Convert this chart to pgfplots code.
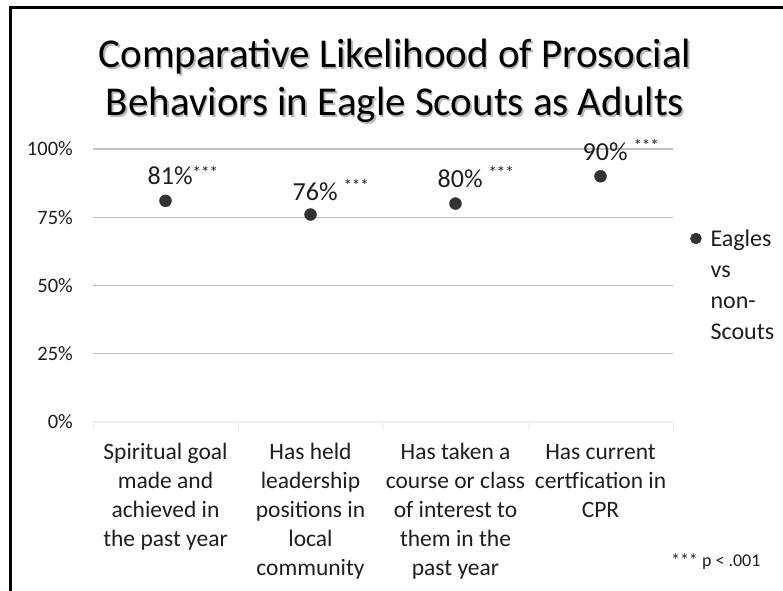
\documentclass[border=0pt]{standalone}
\usepackage{fontspec}
\setmainfont{Carlito}
\usepackage{pgfplots}
\pgfplotsset{compat=1.18}

\definecolor{gridgray}{RGB}{192,192,192}
\definecolor{markgray}{RGB}{51,51,51}
\definecolor{txt}{RGB}{30,30,30}

% raised significance stars after a data label
\DeclareRobustCommand\stars[1]{\raisebox{#1}{\fontsize{17bp}{17bp}\selectfont ***}}

\begin{document}
\begin{tikzpicture}[x=1bp,y=1bp]
\path[use as bounding box] (0,0) rectangle (783,591);

\begin{axis}[
    at={(93bp,169bp)}, anchor=south west,
    scale only axis, width=580bp, height=273bp,
    xmin=-0.5, xmax=3.5, ymin=0, ymax=100,
    clip=false,
    axis line style={draw=none},
    major tick length=0pt,
    xtick pos=bottom, ytick pos=left,
    xtick={0,1,2,3},
    xticklabels={
        {\strut Spiritual goal\\made and\\achieved in\\the past year},
        {\strut Has held\\leadership\\positions in\\local\\community},
        {\strut Has taken a\\course or class\\of interest to\\them in the\\past year},
        {\strut Has current\\certfication in\\CPR}},
    xticklabel style={font=\fontsize{23.5bp}{29bp}\selectfont, text=txt,
        align=center, anchor=north, inner sep=0pt, yshift=-17.5bp},
    extra x ticks={-0.5,0.5,1.5,2.5,3.5},
    extra x tick labels={},
    extra x tick style={major tick length=8bp, tick align=outside,
        tick style={draw=black!7, line width=1bp}},
    ytick={25,50,75,100},
    yticklabels={25\%,50\%,75\%,100\%},
    extra y ticks={0},
    extra y tick labels={0\%},
    extra y tick style={grid style={draw=black!6, line width=1.3bp}},
    yticklabel style={font=\fontsize{20.5bp}{24bp}\selectfont, text=txt,
        inner sep=0pt, xshift=-20bp},
    ymajorgrids,
    grid style={gridgray, line width=1.2bp},
    legend style={at={(axis description cs:1,0.5)}, anchor=west,
        draw=none, fill=none, inner sep=0pt, xshift=24bp,
        font=\fontsize{24bp}{31bp}\selectfont, text=txt,
        cells={anchor=west, align=left}},
    legend image code/.code={
        \path (-5.5bp,0bp) (5.5bp,0bp);
        \fill[markgray, overlay] (-7bp,47bp) circle (5.5bp);},
]
\addplot[only marks, mark=*, mark size=6bp, color=markgray,
    point meta=explicit symbolic,
    nodes near coords,
    every node near coord/.append style={anchor=base west, inner sep=0pt,
        xshift=-18bp, yshift=16bp, font=\fontsize{26bp}{30bp}\selectfont,
        text=txt}]
coordinates {
    (0,81) [81\%\stars{6bp}]
    (1,76) [\raisebox{-2bp}{76\% \stars{9bp}}]
    (2,80) [80\% \stars{9bp}]
    (3,90) [90\% \stars{9bp}]
};
\addlegendentry{Eagles\\vs\\non-\\Scouts}
\end{axis}

% title with a soft drop shadow
\foreach \dx/\dy/\col in {1.5/-1.5/black!28, 0/0/black} {
  \node[anchor=base, font=\fontsize{41bp}{48bp}\selectfont, text=\col]
    at (395+\dx,523+\dy) {Comparative Likelihood of Prosocial};
  \node[anchor=base, font=\fontsize{41bp}{48bp}\selectfont, text=\col]
    at (395+\dx,475+\dy) {Behaviors in Eagle Scouts as Adults};
}

\node[anchor=base east, font=\fontsize{18bp}{21bp}\selectfont, text=txt]
  at (764,24) {*** p < .001};

% frame of the slide
\draw[line width=3bp, black] (10,0) -- (10,583) -- (783,583);
\end{tikzpicture}
\end{document}
